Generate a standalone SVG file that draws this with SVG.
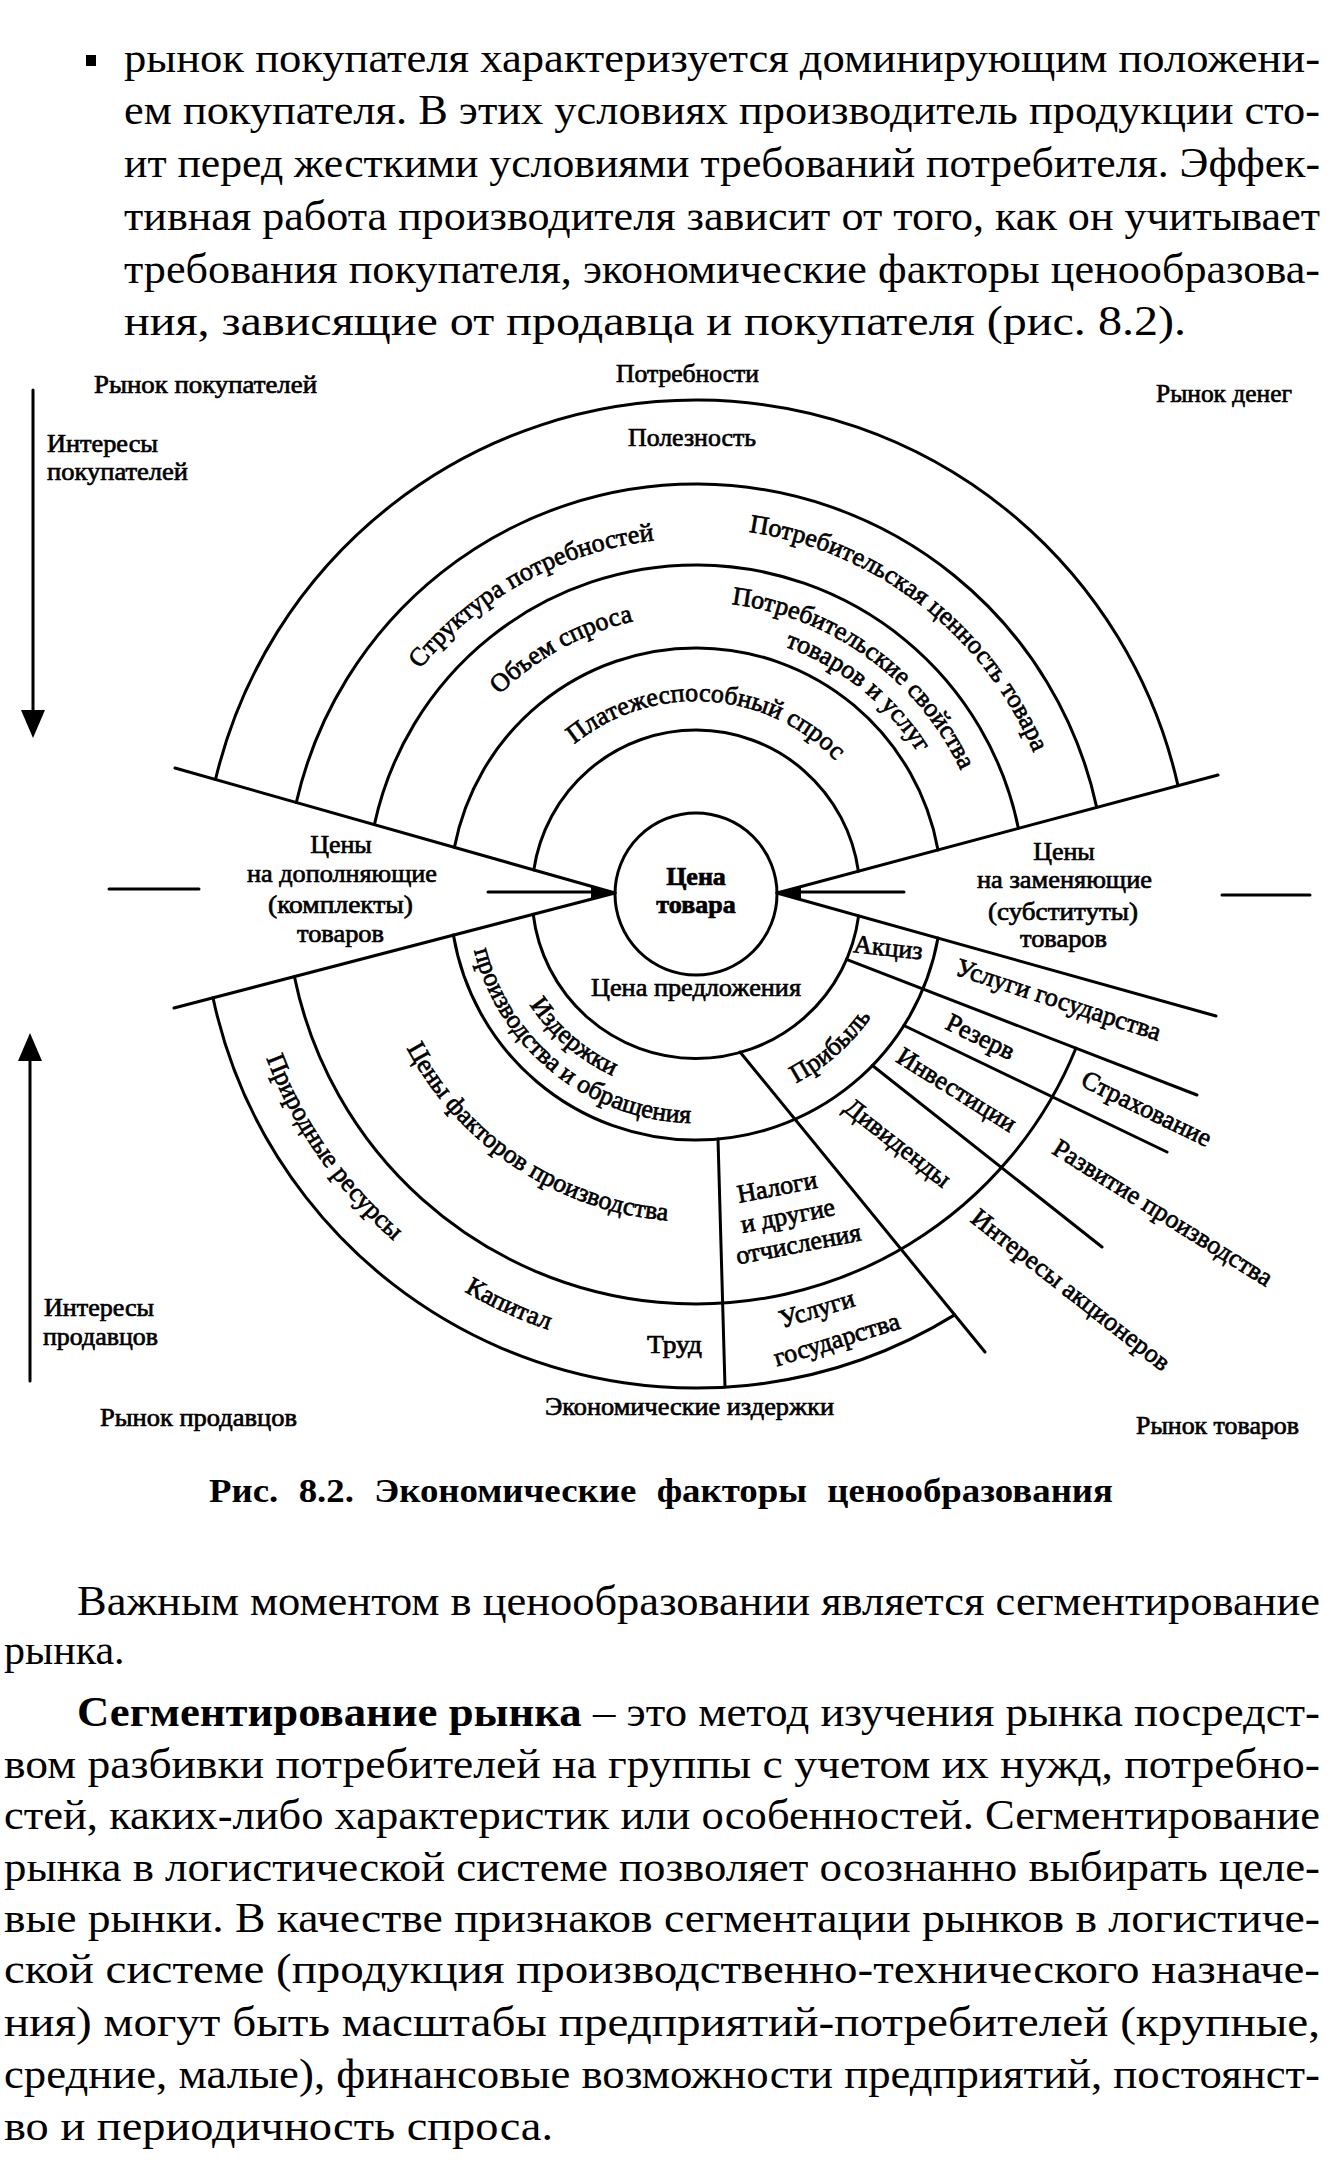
<svg xmlns="http://www.w3.org/2000/svg" width="1338" height="2160" viewBox="0 0 1338 2160">
<style>
.body{font-family:"Liberation Serif","Times New Roman",serif;font-size:42px;fill:#000}
.lbl{font-family:"Liberation Serif","Times New Roman",serif;font-size:26px;fill:#000;stroke:#000;stroke-width:0.7}
.b{font-weight:bold}
.ln{stroke:#000;stroke-width:3;fill:none;stroke-linecap:round}
.cap{font-family:"Liberation Serif","Times New Roman",serif;font-size:33px;font-weight:bold;fill:#000;word-spacing:10px}
</style>
<defs>
<path id="pU193" d="M 503 894 A 193 193 0 0 1 889 894"/>
<path id="pU280" d="M 416 894 A 280 280 0 0 1 976 894"/>
<path id="pU356" d="M 340 894 A 356 356 0 0 1 1052 894"/>
<path id="pU366" d="M 330 894 A 366 366 0 0 1 1062 894"/>
<path id="pU292" d="M 404 894 A 292 292 0 0 1 988 894"/>
<path id="pU263" d="M 433 894 A 263 263 0 0 1 959 894"/>
<path id="pL200" d="M 496 894 A 200 200 0 0 0 896 894"/>
<path id="pL229" d="M 467 894 A 229 229 0 0 0 925 894"/>
<path id="pL328" d="M 368 894 A 328 328 0 0 0 1024 894"/>
<path id="pL460" d="M 236 894 A 460 460 0 0 0 1156 894"/>
<path id="pL214" d="M 482 894 A 214 214 0 0 0 910 894"/>
</defs>
<rect width="1338" height="2160" fill="#fff"/>

<g id="text-top">
<rect x="86" y="55" width="10" height="11" fill="#000"/>
<text class="body" x="124" y="72" textLength="1196" lengthAdjust="spacingAndGlyphs">рынок покупателя характеризуется доминирующим положени-</text>
<text class="body" x="124" y="124" textLength="1196" lengthAdjust="spacingAndGlyphs">ем покупателя. В этих условиях производитель продукции сто-</text>
<text class="body" x="124" y="177" textLength="1196" lengthAdjust="spacingAndGlyphs">ит перед жесткими условиями требований потребителя. Эффек-</text>
<text class="body" x="124" y="230" textLength="1196" lengthAdjust="spacingAndGlyphs">тивная работа производителя зависит от того, как он учитывает</text>
<text class="body" x="124" y="283" textLength="1196" lengthAdjust="spacingAndGlyphs">требования покупателя, экономические факторы ценообразова-</text>
<text class="body" x="124" y="335" textLength="1062" lengthAdjust="spacingAndGlyphs">ния, зависящие от продавца и покупателя (рис. 8.2).</text>
</g>

<g id="rings">
<circle id="center" cx="696" cy="894" r="81" class="ln"/>
<path class="ln" d="M 533.8 869.9 A 164 164 0 0 1 858.4 871.2"/>
<path class="ln" d="M 454.4 847.4 A 246 246 0 0 1 938.0 849.9"/>
<path class="ln" d="M 374.4 824.6 A 329 329 0 0 1 1018.4 828.4"/>
<path class="ln" d="M 296.3 802.5 A 410 410 0 0 1 1096.7 807.4"/>
<path class="ln" d="M 215.5 779.5 A 494 494 0 0 1 1178.0 785.7"/>
<path class="ln" d="M 533.2 914.3 A 164 164 0 0 0 858.6 915.9"/>
<path class="ln" d="M 453.4 935.1 A 246 246 0 0 0 938.0 938.1"/>
<path class="ln" d="M 294.4 976.6 A 410 410 0 0 0 1075.9 1048.2"/>
<path class="ln" d="M 213.0 997.8 A 494 494 0 0 0 954.7 1314.9"/>
</g>

<g id="connectors">
<path class="ln" d="M 615 893 L 175 768"/>
<path class="ln" d="M 615 893 L 174 1008"/>
<path class="ln" d="M 777 893 L 1218 775"/>
<path class="ln" d="M 777 893 L 1216 1016"/>
<path class="ln" d="M 846.4 959.4 L 1197 1095"/>
<path class="ln" d="M 903.9 1025.5 L 1167 1152"/>
<path class="ln" d="M 872.4 1065.5 L 1102 1247"/>
<path class="ln" d="M 740 1052 L 985 1352"/>
<path class="ln" d="M 718 1139 L 725 1387"/>
<path class="ln" d="M 488 892 L 600 892"/>
<polygon points="615,893 591,887 591,899" fill="#000"/>
<path class="ln" d="M 904 892 L 792 892"/>
<polygon points="777,893 801,887 801,899" fill="#000"/>
<path class="ln" d="M 109 889 L 199 889"/>
<path class="ln" d="M 1222 895 L 1310 895"/>
<path class="ln" d="M 33 390 L 33 715"/>
<polygon points="21,710 45,710 33,738" fill="#000"/>
<path class="ln" d="M 30 1381 L 30 1058"/>
<polygon points="18,1061 42,1061 30,1033" fill="#000"/>
</g>

<g id="labels-outer">
<text class="lbl" x="94" y="393" textLength="223" lengthAdjust="spacingAndGlyphs">Рынок покупателей</text>
<text class="lbl" x="616" y="382" textLength="143" lengthAdjust="spacingAndGlyphs">Потребности</text>
<text class="lbl" x="1156" y="402" textLength="136" lengthAdjust="spacingAndGlyphs">Рынок денег</text>
<text class="lbl" x="47" y="452" textLength="111" lengthAdjust="spacingAndGlyphs">Интересы</text>
<text class="lbl" x="47" y="480" textLength="141" lengthAdjust="spacingAndGlyphs">покупателей</text>
<text class="lbl" x="628" y="446" textLength="128" lengthAdjust="spacingAndGlyphs">Полезность</text>
<text class="lbl" x="44" y="1316" textLength="110" lengthAdjust="spacingAndGlyphs">Интересы</text>
<text class="lbl" x="43" y="1345" textLength="115" lengthAdjust="spacingAndGlyphs">продавцов</text>
<text class="lbl" x="545" y="1415" textLength="289" lengthAdjust="spacingAndGlyphs">Экономические издержки</text>
<text class="lbl" x="100" y="1426" textLength="197" lengthAdjust="spacingAndGlyphs">Рынок продавцов</text>
<text class="lbl" x="1136" y="1434" textLength="163" lengthAdjust="spacingAndGlyphs">Рынок товаров</text>
</g>

<g id="labels-upper">
<text class="lbl"><textPath href="#pU193" startOffset="52%" text-anchor="middle">Платежеспособный спрос</textPath></text>
<text class="lbl"><textPath href="#pU280" startOffset="34%" text-anchor="middle">Объем спроса</textPath></text>
<text class="lbl"><textPath href="#pU356" startOffset="34%" text-anchor="middle">Структура потребностей</textPath></text>
<text class="lbl"><textPath href="#pU366" startOffset="71%" text-anchor="middle">Потребительская ценность товара</textPath></text>
<text class="lbl"><textPath href="#pU292" startOffset="70%" text-anchor="middle">Потребительские свойства</textPath></text>
<text class="lbl"><textPath href="#pU263" startOffset="71.5%" text-anchor="middle">товаров и услуг</textPath></text>
</g>

<g id="labels-side">
<text class="lbl" x="341" y="853" text-anchor="middle">Цены</text>
<text class="lbl" x="247" y="882" textLength="190" lengthAdjust="spacingAndGlyphs">на дополняющие</text>
<text class="lbl" x="268" y="913" textLength="145" lengthAdjust="spacingAndGlyphs">(комплекты)</text>
<text class="lbl" x="297" y="942" textLength="87" lengthAdjust="spacingAndGlyphs">товаров</text>
<text class="lbl" x="1064" y="860" text-anchor="middle">Цены</text>
<text class="lbl" x="977" y="888" textLength="175" lengthAdjust="spacingAndGlyphs">на заменяющие</text>
<text class="lbl" x="988" y="920" textLength="150" lengthAdjust="spacingAndGlyphs">(субституты)</text>
<text class="lbl" x="1020" y="947" textLength="87" lengthAdjust="spacingAndGlyphs">товаров</text>
</g>

<g id="node-center">
<text class="lbl b" x="696" y="885" text-anchor="middle" font-size="25">Цена</text>
<text class="lbl b" x="696" y="913" text-anchor="middle" font-size="25">товара</text>
</g>

<g id="labels-lower">
<text class="lbl" x="591" y="996" textLength="210" lengthAdjust="spacingAndGlyphs">Цена предложения</text>
<text class="lbl"><textPath href="#pL200" startOffset="27.5%" text-anchor="middle">Издержки</textPath></text>
<text class="lbl"><textPath href="#pL229" startOffset="28.6%" text-anchor="middle">производства и обращения</textPath></text>
<text class="lbl"><textPath href="#pL328" startOffset="31.4%" text-anchor="middle">Цены факторов производства</textPath></text>
<text class="lbl"><textPath href="#pL460" startOffset="19.4%" text-anchor="middle">Природные ресурсы</textPath></text>
<text class="lbl"><textPath href="#pL460" startOffset="36.4%" text-anchor="middle">Капитал</textPath></text>
<text class="lbl"><textPath href="#pL214" startOffset="73%" text-anchor="middle">Прибыль</textPath></text>
<text class="lbl" x="647" y="1353" textLength="55" lengthAdjust="spacingAndGlyphs">Труд</text>
<text class="lbl" x="888" y="956" text-anchor="middle" transform="rotate(6 888 949)">Акциз</text>
<text class="lbl" x="1058" y="1008" text-anchor="middle" transform="rotate(18 1058 1001)">Услуги государства</text>
<text class="lbl" x="980" y="1045" text-anchor="middle" transform="rotate(26 980 1038)">Резерв</text>
<text class="lbl" x="1146" y="1117" text-anchor="middle" transform="rotate(26 1146 1110)">Страхование</text>
<text class="lbl" x="956" y="1098" text-anchor="middle" transform="rotate(32 956 1091)">Инвестиции</text>
<text class="lbl" x="1162" y="1221" text-anchor="middle" transform="rotate(32 1162 1214)">Развитие производства</text>
<text class="lbl" x="897" y="1151" text-anchor="middle" transform="rotate(38 897 1144)">Дивиденды</text>
<text class="lbl" x="1070" y="1298" text-anchor="middle" transform="rotate(38 1070 1291)">Интересы акционеров</text>
<g transform="rotate(-11 788 1217)">
<text class="lbl" x="783" y="1194" text-anchor="middle">Налоги</text>
<text class="lbl" x="788" y="1224" text-anchor="middle">и другие</text>
<text class="lbl" x="793" y="1254" text-anchor="middle">отчисления</text>
</g>
<g transform="rotate(-17 827 1325)">
<text class="lbl" x="822" y="1315" text-anchor="middle">Услуги</text>
<text class="lbl" x="832" y="1350" text-anchor="middle">государства</text>
</g>
</g>

<g id="caption">
<text class="cap" x="209" y="1502" textLength="904" lengthAdjust="spacingAndGlyphs">Рис. 8.2. Экономические факторы ценообразования</text>
</g>

<g id="text-bottom">
<text class="body" x="77" y="1615" textLength="1243" lengthAdjust="spacingAndGlyphs">Важным моментом в ценообразовании является сегментирование</text>
<text class="body" x="4" y="1664">рынка.</text>
<text class="body" x="77" y="1726" textLength="1243" lengthAdjust="spacingAndGlyphs"><tspan font-weight="bold">Сегментирование рынка</tspan> – это метод изучения рынка посредст-</text>
<text class="body" x="4" y="1778" textLength="1316" lengthAdjust="spacingAndGlyphs">вом разбивки потребителей на группы с учетом их нужд, потребно-</text>
<text class="body" x="4" y="1829" textLength="1316" lengthAdjust="spacingAndGlyphs">стей, каких-либо характеристик или особенностей. Сегментирование</text>
<text class="body" x="4" y="1881" textLength="1316" lengthAdjust="spacingAndGlyphs">рынка в логистической системе позволяет осознанно выбирать целе-</text>
<text class="body" x="4" y="1932" textLength="1316" lengthAdjust="spacingAndGlyphs">вые рынки. В качестве признаков сегментации рынков в логистиче-</text>
<text class="body" x="4" y="1983" textLength="1316" lengthAdjust="spacingAndGlyphs">ской системе (продукция производственно-технического назначе-</text>
<text class="body" x="4" y="2036" textLength="1316" lengthAdjust="spacingAndGlyphs">ния) могут быть масштабы предприятий-потребителей (крупные,</text>
<text class="body" x="4" y="2088" textLength="1316" lengthAdjust="spacingAndGlyphs">средние, малые), финансовые возможности предприятий, постоянст-</text>
<text class="body" x="4" y="2140" textLength="549" lengthAdjust="spacingAndGlyphs">во и периодичность спроса.</text>
</g>
</svg>
